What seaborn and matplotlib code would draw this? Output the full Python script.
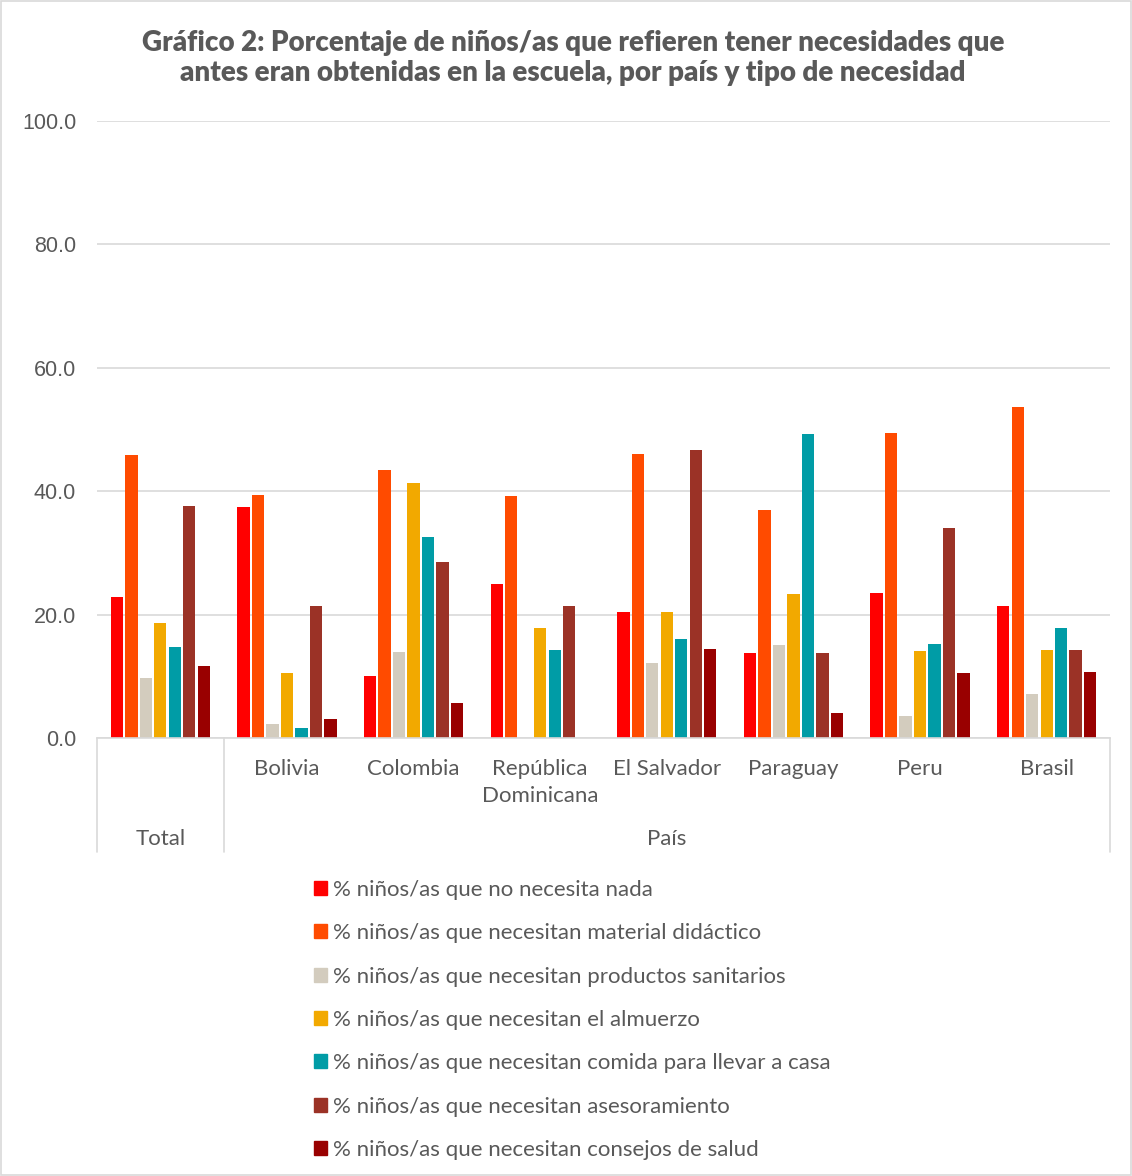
import seaborn as sns
import matplotlib.pyplot as plt
from matplotlib.patches import Rectangle
import pandas as pd

# data
grupos = ['Total', 'Bolivia', 'Colombia', 'República\nDominicana', 'El Salvador',
          'Paraguay', 'Peru', 'Brasil']
necesidades = ['% niños/as que no necesita nada',
               '% niños/as que necesitan material didáctico',
               '% niños/as que necesitan productos sanitarios',
               '% niños/as que necesitan el almuerzo',
               '% niños/as que necesitan comida para llevar a casa',
               '% niños/as que necesitan asesoramiento',
               '% niños/as que necesitan consejos de salud']
no_necesita = [22.9, 37.4, 10.0, 25.0, 20.4, 13.7, 23.5, 21.4]
material = [45.9, 39.4, 43.4, 39.2, 46.0, 37.0, 49.4, 53.6]
sanitarios = [9.8, 2.3, 13.9, 0.0, 12.2, 15.1, 3.5, 7.1]
almuerzo = [18.6, 10.5, 41.3, 17.8, 20.4, 23.3, 14.1, 14.3]
comida = [14.7, 1.6, 32.6, 14.3, 16.1, 49.3, 15.2, 17.8]
asesoramiento = [37.6, 21.4, 28.6, 21.4, 46.7, 13.7, 34.1, 14.3]
salud = [11.7, 3.1, 5.6, 0.0, 14.4, 4.1, 10.5, 10.7]
colores = ['#FF0000', '#FF4B00', '#D3CCBE', '#F2A900', '#009CA6', '#9B3226', '#990000']

series = [no_necesita, material, sanitarios, almuerzo, comida, asesoramiento, salud]
rows = []
for nec, vals in zip(necesidades, series):
    for g, v in zip(grupos, vals):
        rows.append({'grupo': g, 'necesidad': nec, 'valor': v})
df = pd.DataFrame(rows)

sns.set_theme(style='white')
plt.rcParams['font.family'] = ['Lato', 'DejaVu Sans']
gris = '#595959'

fig = plt.figure(figsize=(11.32, 11.76), dpi=100)
ax = fig.add_axes([97 / 1132, 1 - 738 / 1176, (1110 - 97) / 1132, (738 - 121) / 1176])

sns.barplot(data=df, x='grupo', y='valor', hue='necesidad', order=grupos,
            hue_order=necesidades, palette=colores, saturation=1, width=0.8, gap=0.15,
            linewidth=0, ax=ax)

ax.set_ylim(0, 100)
ax.set_xlim(-0.5, 7.5)
ax.set_yticks([0, 20, 40, 60, 80, 100])
ax.set_yticklabels([f'{v:.1f}' for v in [0, 20, 40, 60, 80, 100]],
                   family='Liberation Sans', fontsize=15.5)
ax.set_xticks(range(len(grupos)))
ax.set_xticklabels([''] + grupos[1:], fontsize=16, linespacing=1.45)
ax.yaxis.grid(True, color='#D9D9D9', linewidth=1.2)
ax.set_axisbelow(True)
for s in ['top', 'right', 'left']:
    ax.spines[s].set_visible(False)
ax.spines['bottom'].set_color('#D9D9D9')
ax.spines['bottom'].set_linewidth(1.2)
ax.tick_params(axis='both', length=0, labelcolor=gris)
ax.tick_params(axis='x', pad=15)
ax.tick_params(axis='y', pad=15)
ax.set_xlabel('')
ax.set_ylabel('')

# hierarchical category axis
trans = ax.get_xaxis_transform()
for x in [-0.5, 0.5, 7.5]:
    ax.plot([x, x], [0, -0.185], color='#D9D9D9', lw=1.2, transform=trans, clip_on=False)
ax.text(0, -0.163, 'Total', transform=trans, ha='center', va='center', fontsize=16, color=gris)
ax.text(4, -0.163, 'País', transform=trans, ha='center', va='center', fontsize=16, color=gris)

ax.get_legend().remove()
handles = [Rectangle((0, 0), 1, 1, color=c) for c in colores]
fig.legend(handles, necesidades, loc='upper left', bbox_to_anchor=(305 / 1132, 1 - 871 / 1176),
           frameon=False, fontsize=16, labelcolor=gris, handlelength=0.6, handleheight=0.6,
           handletextpad=0.25, labelspacing=1.05, borderaxespad=0)

fig.text(0.506, 1 - 58 / 1176,
         'Gráfico 2: Porcentaje de niños/as que refieren tener necesidades que\n'
         'antes eran obtenidas en la escuela, por país y tipo de necesidad',
         ha='center', va='center', fontsize=20, fontweight='heavy', color=gris, linespacing=1.22)

fig.patches.append(Rectangle((0.001, 0.001), 0.998, 0.998, transform=fig.transFigure,
                             fill=False, edgecolor='#D9D9D9', lw=1.2))

fig.savefig('out.png', dpi=100)
